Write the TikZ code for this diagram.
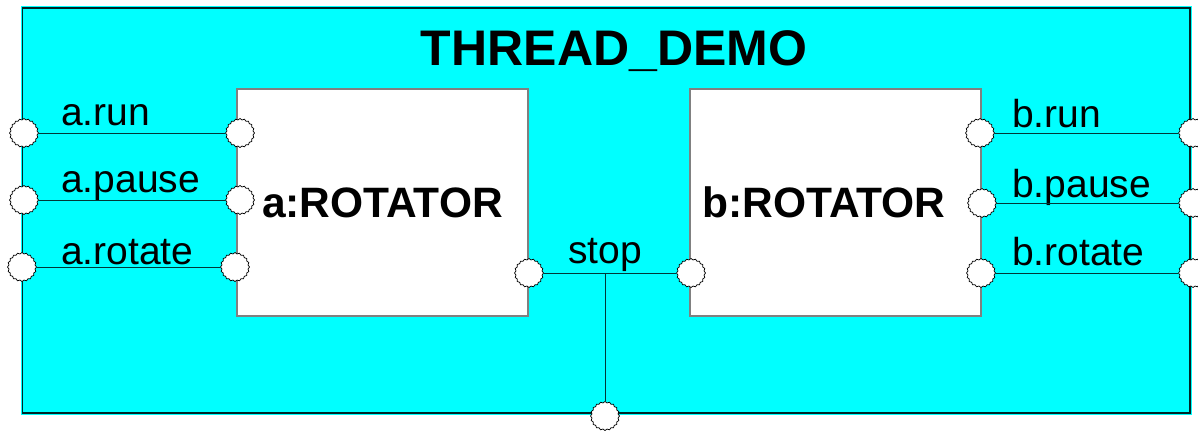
\documentclass[tikz,border=0pt]{standalone}
\usepackage{fontspec}
\setmainfont{Liberation Sans}
\usetikzlibrary{shapes.geometric}
\definecolor{framecyan}{RGB}{0,255,255}
\definecolor{wireclr}{RGB}{0,55,55}
\definecolor{compedge}{RGB}{128,128,128}
\begin{document}
\begin{tikzpicture}[
  x=1pt, y=-1pt,
  port/.style={star, star points=20, star point ratio=1.1, draw=black,
    fill=white, line width=0.7pt, minimum size=29pt, inner sep=0pt},
  comp/.style={draw=compedge, fill=white, line width=1.4pt,
    minimum width=291pt, minimum height=227pt, inner sep=0pt,
    font=\bfseries\fontsize{42.5}{44}\selectfont},
  wire/.style={draw=wireclr, line width=1pt},
  sig/.style={anchor=base west, inner sep=0pt, font=\fontsize{39}{41}\selectfont},
]
  \useasboundingbox (0,0) rectangle (1198,431);

  % frame
  \fill[framecyan] (21,6) rectangle (1192,415);
  \draw[black!85!framecyan, line width=1.5pt] (22.5,8) rectangle (1190,413);
  \node[anchor=base, inner sep=0pt, font=\bfseries\fontsize{50}{52}\selectfont]
    (title) at (614,65) {THREAD\_DEMO};

  % components
  \node[comp] (rotA) at (382.5,202.5) {a:ROTATOR};
  \node[comp] (rotB) at (835.5,202.5) {b:ROTATOR\hspace*{23pt}};

  % signal labels
  \node[sig] (lARun)    at (61,125)   {a.run};
  \node[sig] (lAPause)  at (61,192)   {a.pause};
  \node[sig] (lARotate) at (61,264)   {a.rotate};
  \node[sig] (lBRun)    at (1012,127) {b.run};
  \node[sig] (lBPause)  at (1012,197) {b.pause};
  \node[sig] (lBRotate) at (1012,265) {b.rotate};
  \node[sig, anchor=base] (lStop) at (605,263) {stop};

  % ports
  \node[port] (pARun)    at (24,133)    {};
  \node[port] (pAPause)  at (24,200)    {};
  \node[port] (pARotate) at (22,267)    {};
  \node[port] (aRun)     at (240,133)   {};
  \node[port] (aPause)   at (240,200)   {};
  \node[port] (aRotate)  at (235,267)   {};
  \node[port] (aStop)    at (529,273)   {};
  \node[port] (bStop)    at (691,273)   {};
  \node[port] (bRun)     at (980,133)   {};
  \node[port] (bPause)   at (982,203)   {};
  \node[port] (bRotate)  at (981,273)   {};
  \node[port] (pBRun)    at (1193,133)  {};
  \node[port] (pBPause)  at (1193,203)  {};
  \node[port] (pBRotate) at (1193,273)  {};
  \node[port] (pStop)    at (605,416)   {};
  \coordinate (stopJ) at (aStop -| pStop);

  % wires
  \foreach \a/\b in {pARun/aRun, pAPause/aPause, pARotate/aRotate,
                     bRun/pBRun, bPause/pBPause, bRotate/pBRotate,
                     aStop/bStop}
    \draw[wire] (\a) -- (\b);
  \draw[wire] (stopJ) -- (pStop);
\end{tikzpicture}
\end{document}
